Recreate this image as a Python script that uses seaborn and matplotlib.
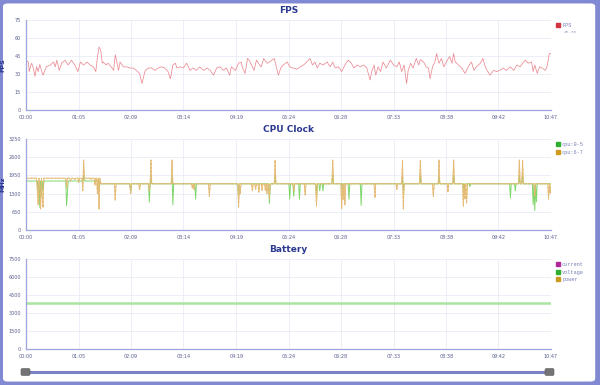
import numpy as np
import pandas as pd
import matplotlib
matplotlib.use("Agg")
import matplotlib.pyplot as plt
import seaborn as sns
from matplotlib.lines import Line2D
from matplotlib.patches import FancyBboxPatch

# x axis labels (mm:ss)
time_labels = ["00:00", "01:05", "02:09", "03:14", "04:19", "05:24",
               "06:28", "07:33", "08:38", "09:42", "10:47"]

# FPS samples (seconds, fps)
fps_time = [0, 3, 4, 6, 7, 9, 11, 13, 15, 17,
            19, 21, 25, 30, 34, 36, 38, 41, 44, 48,
            52, 56, 60, 64, 67, 71, 75, 79, 83, 86,
            88, 90, 92, 94, 95, 99, 101, 105, 108, 110,
            112, 114, 116, 120, 124, 128, 132, 136, 140, 143,
            145, 147, 151, 155, 159, 163, 167, 171, 175, 178,
            181, 184, 186, 190, 194, 198, 202, 206, 210, 214,
            219, 223, 227, 231, 235, 239, 243, 247, 251, 253,
            258, 262, 265, 267, 270, 273, 275, 278, 281, 284,
            288, 290, 293, 297, 300, 303, 306, 308, 311, 314,
            317, 320, 322, 325, 329, 334,
            338, 342, 346, 350, 353, 356, 359, 362, 366, 371,
            375, 378, 381, 385, 389, 393, 397, 401, 404, 408,
            412, 416, 420, 424, 426, 429, 431, 434, 437, 440,
            444, 447, 449, 453, 457, 460, 463, 466, 469, 471,
            474, 477, 481, 484, 486, 490, 493, 496, 498, 501,
            504, 506, 509, 512, 515, 518, 522, 525, 527, 529,
            533, 537, 541, 545, 549, 552, 555, 560, 563, 566,
            569, 572, 576, 580, 584, 588, 592, 597, 601, 605,
            609, 612, 615, 619, 623, 625, 627, 630, 633, 636,
            640, 642, 645, 647]
fps_value = [41, 40, 32, 37.5, 39, 35, 28, 36, 32, 38,
             33, 29, 36, 37.5, 40, 36, 41.5, 33, 39, 41.5,
             37.5, 41.5, 37.5, 32, 40, 37.5, 40, 37.5, 36, 32,
             44, 52.5, 50, 39, 40, 37.5, 39, 36, 33, 46,
             40, 33, 40, 36, 36, 35, 35, 33, 30.5, 22,
             28, 33, 35, 35, 33, 35, 36, 35, 32, 26,
             37.5, 39, 35, 36, 35, 39, 33, 35, 33, 36,
             33, 35, 33, 29, 35, 36, 33, 35, 29, 36,
             33, 39, 40, 35, 30.5, 43, 41.5, 37.5, 33, 41.5,
             37.5, 36, 43, 39, 40, 41.5, 43, 37.5, 29, 35,
             37.5, 39, 40, 36, 35, 34,
             36, 37.5, 40, 43, 37.5, 40, 35, 39, 37.5, 40,
             36, 40, 35, 36, 32, 37.5, 41.5, 39, 35, 37.5,
             36, 37.5, 35, 25, 32, 37.5, 29, 36, 32, 40,
             35, 39, 41.5, 37.5, 36, 40, 32, 37.5, 22, 33,
             39, 35, 43, 37.5, 42, 40, 36, 35, 26, 36,
             40, 47, 39, 43, 36, 40, 44.5, 39, 47, 40,
             37.5, 35, 30.5, 36, 40, 33, 36, 39, 43, 36,
             32, 29, 33, 32, 33, 35, 33, 36, 33, 37.5,
             36, 39, 41.5, 39, 40, 32, 37.5, 30.5, 36, 35,
             33, 36, 47, 47]

# CPU clock: steady levels (MHz) and the moment they drop
cpu_switch_time = 92
cpu05_levels = [1750, 1650]
cpu67_levels = [1850, 1650]
# short excursions away from the steady level (seconds, MHz)
cpu05_event_time = [15, 17, 19, 21, 50, 51, 71, 90, 129, 152,
                    154, 180, 181, 209, 262, 300, 307, 325, 330, 337,
                    358, 362, 366, 378, 390, 398, 413, 464, 465, 486,
                    509, 527, 540, 547, 597, 603, 608, 612, 625, 627,
                    629]
cpu05_event_value = [1300, 810, 1200, 1400, 870, 1300, 1950, 1400, 1350, 1000,
                     1950, 1950, 900, 1100, 1200, 950, 1950, 1100, 1200, 1100,
                     1200, 1400, 1400, 1950, 1300, 1100, 880, 1950, 1300, 1950,
                     1950, 1950, 1350, 1550, 1150, 1400, 1950, 1950, 900, 700,
                     1000]
cpu67_event_time = [14, 15, 17, 18, 20, 21, 50, 55, 60, 65,
                    70, 71, 80, 85, 88, 90, 110, 129, 140, 152,
                    154, 180, 205, 207, 226, 262, 264, 279, 283, 287,
                    291, 295, 297, 300, 307, 330, 344, 358, 378, 389,
                    391, 393, 430, 457, 464, 465, 486, 502, 509, 520,
                    527, 539, 541, 543, 608, 612, 627, 644, 646]
cpu67_event_value = [1400, 900, 1600, 750, 1200, 800, 1500, 1750, 1800, 1700,
                     1400, 2500, 1800, 1600, 1300, 750, 1050, 1300, 1450, 1400,
                     2500, 2500, 1500, 1450, 1200, 800, 1300, 1400, 1450, 1350,
                     1400, 1400, 1300, 1100, 2500, 1400, 1250, 850, 2500, 750,
                     1100, 900, 1150, 1450, 2500, 750, 2500, 1200, 2500, 1350,
                     2500, 850, 1100, 950, 2500, 2500, 1200, 1100, 1300]

# battery (mV / mA / mW), flat over the session
battery_voltage = 3850
battery_current = 0
battery_power = 0

fps_ticks = [0, 15, 30, 45, 60, 75]
cpu_ticks = [0, 650, 1300, 1950, 2600, 3250]
bat_ticks = [0, 1500, 3000, 4500, 6000, 7500]


def to_seconds(label):
    m, s = label.split(":")
    return int(m) * 60 + int(s)


xt = [to_seconds(l) for l in time_labels]
x_end = xt[-1]
secs = np.arange(0, x_end + 1)

cpu05 = np.where(secs < cpu_switch_time, cpu05_levels[0], cpu05_levels[1]).astype(float)
cpu05[cpu05_event_time] = cpu05_event_value
cpu67 = np.where(secs < cpu_switch_time, cpu67_levels[0], cpu67_levels[1]).astype(float)
cpu67[cpu67_event_time] = cpu67_event_value

fps_df = pd.DataFrame({"t": fps_time, "fps": fps_value})
cpu_df = pd.DataFrame({"t": secs, "cpu05": cpu05, "cpu67": cpu67})
bat_df = pd.DataFrame({"t": secs,
                       "voltage": np.full(len(secs), battery_voltage),
                       "current": np.full(len(secs), battery_current),
                       "power": np.full(len(secs), battery_power)})

sns.set_style("white")
plt.rcParams["font.family"] = ["DejaVu Sans"]

navy = "#2b3990"
axis_col = "#9ea4dc"
tick_col = "#5a5f8f"
leg_col = "#7a80b8"

fig = plt.figure(figsize=(6, 3.85), dpi=100, facecolor="#8189d3")
panel = FancyBboxPatch((0.005, 0.009), 0.987, 0.982,
                       boxstyle="round,pad=0,rounding_size=0.008",
                       transform=fig.transFigure, facecolor="white",
                       edgecolor="none", zorder=-10)
fig.patches.append(panel)

left, width = 26 / 600, 525 / 600
ax_fps = fig.add_axes([left, 1 - 110 / 385, width, 90 / 385])
ax_cpu = fig.add_axes([left, 1 - 230 / 385, width, 91 / 385])
ax_bat = fig.add_axes([left, 1 - 349 / 385, width, 90 / 385])

sns.lineplot(data=fps_df, x="t", y="fps", ax=ax_fps, color="#ea8a93", linewidth=0.55)

sns.lineplot(data=cpu_df, x="t", y="cpu05", ax=ax_cpu, color="#7fd66a", linewidth=0.7)
sns.lineplot(data=cpu_df, x="t", y="cpu67", ax=ax_cpu, color="#e0b060", linewidth=0.7,
             alpha=0.9, linestyle=(0, (3, 1)))
sns.lineplot(data=cpu_df, x="t", y="cpu67", ax=ax_cpu, color="#e6bd78", linewidth=0.5)

sns.lineplot(data=bat_df, x="t", y="current", ax=ax_bat, color="#c04ab0", linewidth=0.5, alpha=0.5)
sns.lineplot(data=bat_df, x="t", y="power", ax=ax_bat, color="#d0a030", linewidth=0.5, alpha=0.5)
sns.lineplot(data=bat_df, x="t", y="voltage", ax=ax_bat, color="#a9e4a0", linewidth=1.8)

panels = [
    (ax_fps, "FPS", "FPS", fps_ticks,
     [("FPS", "#d0343f")]),
    (ax_cpu, "CPU Clock", "MHz", cpu_ticks,
     [("cpu:0-5", "#2fae2f"), ("cpu:6-7", "#d09a20")]),
    (ax_bat, "Battery", "", bat_ticks,
     [("current", "#b0289c"), ("voltage", "#2fae2f"), ("power", "#c89a20")]),
]

minor = [(a + b) / 2 for a, b in zip(xt[:-1], xt[1:])]

for ax, title, ylab, yt, leg in panels:
    ax.set_xlim(0, x_end)
    ax.set_ylim(yt[0], yt[-1])
    ax.set_xticks(xt)
    ax.set_xticklabels(time_labels)
    ax.set_xticks(minor, minor=True)
    ax.set_yticks(yt)
    ax.set_yticklabels([str(v) for v in yt])
    ax.grid(True, which="major", color="#e9ebf7", linewidth=0.6)
    ax.set_axisbelow(True)
    for s in ["top", "right"]:
        ax.spines[s].set_visible(False)
    for s in ["left", "bottom"]:
        ax.spines[s].set_color(axis_col)
        ax.spines[s].set_linewidth(0.9)
    ax.tick_params(axis="both", which="both", colors=axis_col, labelcolor=tick_col,
                   labelsize=3.5, length=2, width=0.6, pad=1.5)
    ax.tick_params(axis="x", which="minor", length=1.5)
    ax.set_xlabel("")
    ax.set_ylabel(ylab, fontsize=4.6, fontweight="bold", color=navy)
    ax.yaxis.set_label_coords(-21 / 525, 0.5)
    ax.set_title(title, fontsize=6.5, fontweight="bold", color=navy, pad=5)
    handles = [Line2D([], [], marker="s", linestyle="", color=c, markersize=2.5)
               for _, c in leg]
    lg = ax.legend(handles, [n for n, _ in leg], loc="upper left",
                   bbox_to_anchor=(1.005, 1.0), frameon=False,
                   prop={"family": "Liberation Mono", "size": 3.8},
                   handlelength=0.5, handletextpad=0.5, labelspacing=0.45,
                   borderaxespad=0.2)
    for t in lg.get_texts():
        t.set_color(leg_col)

ax_fps.text(1.025, 0.87, "45.35", transform=ax_fps.transAxes, fontsize=3.2,
            color="#a0a4c8", family="Liberation Mono", va="center")

# range slider under the charts
fig.add_artist(Line2D([25 / 600, 552 / 600], [1 - 372 / 385] * 2,
                      transform=fig.transFigure, color="#7a81c6", linewidth=2.2))
for x0 in (21 / 600, 545 / 600):
    fig.patches.append(FancyBboxPatch((x0, 1 - 375.5 / 385), 9 / 600, 7 / 385,
                                      boxstyle="round,pad=0,rounding_size=0.003",
                                      transform=fig.transFigure, facecolor="#747474",
                                      edgecolor="#5a5a5a", linewidth=0.4, zorder=5))

fig.savefig("out.png", dpi=100, facecolor=fig.get_facecolor())
